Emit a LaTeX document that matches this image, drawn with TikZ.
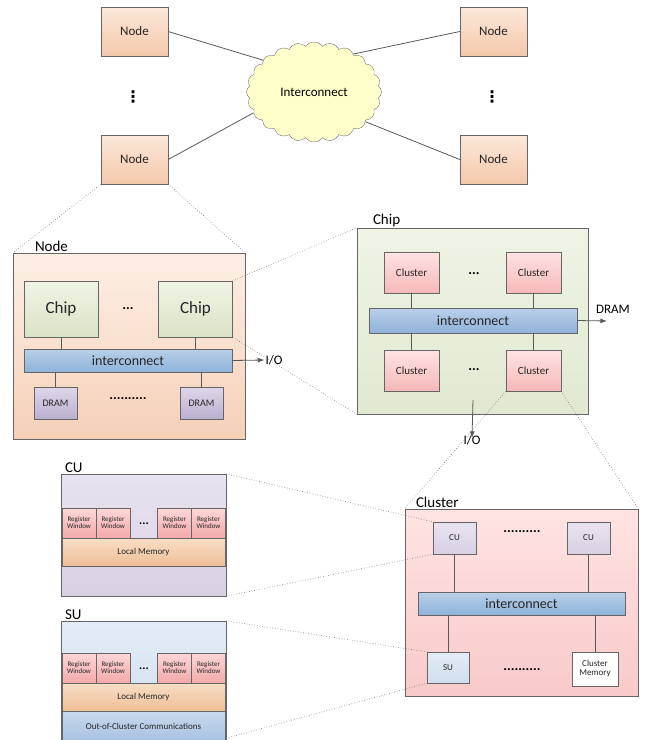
\documentclass[tikz,border=0pt]{standalone}
\usepackage{fontspec}
\setmainfont{Carlito}
\newfontfamily\symfont{DejaVu Sans}
\usetikzlibrary{positioning, arrows.meta, shapes.symbols}

\definecolor{peachTop}{HTML}{FCE8DA}
\definecolor{peachBot}{HTML}{F3C8AB}
\definecolor{greenTop}{HTML}{EFF4E6}
\definecolor{greenBot}{HTML}{D9E3C5}
\definecolor{barTop}{HTML}{B9D0E8}
\definecolor{barBot}{HTML}{8FB2D9}
\definecolor{dramTop}{HTML}{DED7E9}
\definecolor{dramBot}{HTML}{BBAFCF}
\definecolor{pinkTop}{HTML}{FFE3E3}
\definecolor{pinkBot}{HTML}{F6B8B8}
\definecolor{lilacTop}{HTML}{E8E3F0}
\definecolor{lilacBot}{HTML}{D8D0E3}
\definecolor{regTop}{HTML}{FDD7D7}
\definecolor{regBot}{HTML}{F3A9A9}
\definecolor{memTop}{HTML}{F8DDC6}
\definecolor{memBot}{HTML}{EEBF96}
\definecolor{skyTop}{HTML}{E3ECF6}
\definecolor{skyBot}{HTML}{D1DEED}
\definecolor{commTop}{HTML}{C8D9EC}
\definecolor{commBot}{HTML}{A7C1E1}
\definecolor{cloudYellow}{HTML}{FFFFCC}

\newcommand{\fsz}[1]{\fontsize{#1}{#1}\selectfont}

\begin{document}
\begin{tikzpicture}[
        x=1pt, y=-1pt, >=Latex,
        wire/.style={draw=black!65, line width=0.8pt},
        zoomline/.style={draw=black!55, dotted, line width=0.6pt},
        box/.style={draw=black!60, rectangle, align=center, inner sep=1pt, text=black!85},
        title/.style={anchor=south west, inner sep=1pt, font=\fsz{15}},
        dots/.style={font=\bfseries\fsz{14}, inner sep=1pt},
        netnode/.style={box, top color=peachTop, bottom color=peachBot, minimum width=67pt, minimum height=49pt, font=\fsz{13}},
        bar/.style={box, top color=barTop, bottom color=barBot, font=\fsz{14}},
        chip/.style={box, top color=greenTop, bottom color=greenBot, minimum width=74pt, minimum height=56pt, font=\fsz{17}},
        dram/.style={box, top color=dramTop, bottom color=dramBot, minimum width=43pt, minimum height=32pt, font=\fsz{10}},
        cluster/.style={box, top color=pinkTop, bottom color=pinkBot, minimum width=55pt, minimum height=41pt, font=\fsz{11}},
        unit/.style={box, minimum width=43pt, minimum height=32pt, font=\fsz{9}},
        regwin/.style={box, top color=regTop, bottom color=regBot, minimum width=34pt, minimum height=30pt, font=\fsz{7}, inner sep=0pt},
        mem/.style={box, top color=memTop, bottom color=memBot, minimum width=163pt, minimum height=28pt, font=\fsz{9}}
    ]
    \clip (0,0) rectangle (647,740);

    % --- System: nodes around the network ---
    \node[cloud, cloud puffs=24, cloud puff arc=110, aspect=1.35, draw=black!55, fill=cloudYellow, minimum width=135pt, minimum height=100pt, font=\fsz{13}] (net) at (314,92) {Interconnect};
    \node[netnode] (n1) at (134.5,31.5) {Node};
    \node[netnode] (n2) at (134.5,159.5) {Node};
    \node[netnode] (n3) at (493.5,31.5) {Node};
    \node[netnode] (n4) at (493.5,159.5) {Node};
    \node[font=\symfont\bfseries\fsz{16}, inner sep=0pt] (vdl) at (133,97) {⋮};
    \node[font=\symfont\bfseries\fsz{16}, inner sep=0pt] (vdr) at (492,97) {⋮};
    \draw[wire] (n1.east) -- (net.148);
    \draw[wire] (n2.east) -- (net.199);
    \draw[wire] (n3.west) -- (net.44);
    \draw[wire] (n4.west) -- (net.-30);

    % --- Node ---
    \node[box, top color=peachTop!70, bottom color=peachBot!85, minimum width=232pt, minimum height=186pt] (nodebox) at (129,346) {};
    \node[title] (nodetitle) at ([xshift=21pt]nodebox.north west) {Node};
    \node[chip] (chip1) at (61,309) {Chip};
    \node[chip] (chip2) at (195.5,309) {Chip};
    \node[dots] (chipdots) at (128,309) {...};
    \node[bar, minimum width=208pt, minimum height=23pt] (nodebar) at (128,360.5) {interconnect};
    \node[dram] (dram1) at (55.5,403) {DRAM};
    \node[dram] (dram2) at (201.5,403) {DRAM};
    \node[dots] (dramdots) at (128,399) {..........};
    \node[font=\fsz{13}, inner sep=1pt] (nodeio) at (274,360) {I/O};
    \draw[wire] (chip1.south) -- (chip1 |- nodebar.north);
    \draw[wire] (chip2.south) -- (chip2 |- nodebar.north);
    \draw[wire] (dram1.north) -- (dram1 |- nodebar.south);
    \draw[wire] (dram2.north) -- (dram2 |- nodebar.south);
    \draw[wire, ->] (nodebar.east) -- (nodeio.west);

    % --- Chip ---
    \node[box, top color=greenTop, bottom color=greenBot!80, minimum width=231pt, minimum height=186pt] (chipbox) at (472.5,321) {};
    \node[title] (chiptitle) at ([xshift=15pt]chipbox.north west) {Chip};
    \node[cluster] (cl1) at (411.5,272.5) {Cluster};
    \node[cluster] (cl2) at (533.5,272.5) {Cluster};
    \node[cluster] (cl3) at (411.5,370.5) {Cluster};
    \node[cluster] (cl4) at (533.5,370.5) {Cluster};
    \node[dots] (cldots1) at (474,274) {...};
    \node[dots] (cldots2) at (474,370) {...};
    \node[bar, minimum width=208pt, minimum height=25pt] (chipbar) at (473,320.5) {interconnect};
    \coordinate (dramend) at (607,321);
    \node[font=\fsz{13}, inner sep=1pt] (chipdram) at (613,309) {DRAM};
    \coordinate (iostart) at (473,400);
    \node[font=\fsz{13}, inner sep=1pt] (chipio) at (472,440) {I/O};
    \draw[wire] (cl1.south) -- (cl1 |- chipbar.north);
    \draw[wire] (cl2.south) -- (cl2 |- chipbar.north);
    \draw[wire] (cl3.north) -- (cl3 |- chipbar.south);
    \draw[wire] (cl4.north) -- (cl4 |- chipbar.south);
    \draw[wire, ->] (chipbar.east) -- (dramend);
    \draw[wire, ->] (iostart) -- ([yshift=-4pt]chipio.north);

    % --- Cluster ---
    \node[box, top color=pinkTop, bottom color=pinkBot!75, minimum width=233pt, minimum height=187pt] (clbox) at (521.5,602.5) {};
    \node[title] (cltitle) at ([xshift=10pt]clbox.north west) {Cluster};
    \node[unit, top color=lilacTop, bottom color=lilacBot] (cu1) at (454.5,538) {CU};
    \node[unit, top color=lilacTop, bottom color=lilacBot] (cu2) at (588.5,538) {CU};
    \node[dots] (cudots) at (522,532) {..........};
    \node[bar, minimum width=207pt, minimum height=23pt] (clbar) at (521.5,603.5) {interconnect};
    \node[unit, top color=skyTop, bottom color=skyBot, minimum width=42pt, minimum height=31pt] (su1) at (448,667.5) {SU};
    \node[unit, fill=white, minimum width=46pt, minimum height=34pt] (clmem) at (595,669) {Cluster\\Memory};
    \node[dots] (sudots) at (522,670) {..........};
    \draw[wire] (cu1.south) -- (cu1 |- clbar.north);
    \draw[wire] (cu2.south) -- (cu2 |- clbar.north);
    \draw[wire] (su1.north) -- (su1 |- clbar.south);
    \draw[wire] (clmem.north) -- (clmem |- clbar.south);

    % --- CU ---
    \node[box, top color=lilacTop, bottom color=lilacBot, minimum width=165pt, minimum height=122pt] (cubox) at (143.5,535) {};
    \node[title] (cutitle) at ([xshift=3pt]cubox.north west) {CU};
    \node[regwin] (curw1) at (79,523) {Register\\Window};
    \node[regwin] (curw2) at (113,523) {Register\\Window};
    \node[regwin] (curw3) at (174.5,523) {Register\\Window};
    \node[regwin] (curw4) at (208.5,523) {Register\\Window};
    \node[dots, font=\bfseries\fsz{12}] (curwdots) at (144,524) {...};
    \node[mem] (cumem) at (143.5,552) {Local Memory};

    % --- SU ---
    \node[box, top color=skyTop, bottom color=skyBot, minimum width=165pt, minimum height=121pt] (subox) at (143.5,681.5) {};
    \node[title] (sutitle) at ([xshift=3pt]subox.north west) {SU};
    \node[regwin] (surw1) at (79,668) {Register\\Window};
    \node[regwin] (surw2) at (113,668) {Register\\Window};
    \node[regwin] (surw3) at (174.5,668) {Register\\Window};
    \node[regwin] (surw4) at (208.5,668) {Register\\Window};
    \node[dots, font=\bfseries\fsz{12}] (surwdots) at (144,669) {...};
    \node[mem] (sumem) at (143.5,697) {Local Memory};
    \node[mem, top color=commTop, bottom color=commBot, minimum height=31pt] (sucomm) at (143.5,726.5) {Out-of-Cluster Communications};

    % --- Zoom lines (dotted) ---
    \draw[zoomline] (n2.south west) -- (nodebox.north west);
    \draw[zoomline] (n2.south east) -- (nodebox.north east);
    \draw[zoomline] (chip2.north east) -- (chipbox.north west);
    \draw[zoomline] (chip2.south east) -- (chipbox.south west);
    \draw[zoomline] (cl4.south west) -- (clbox.north west);
    \draw[zoomline] (cl4.south east) -- (clbox.north east);
    \draw[zoomline] (cubox.north east) -- (cu1.north west);
    \draw[zoomline] (cubox.south east) -- (cu1.south west);
    \draw[zoomline] (subox.north east) -- (su1.north west);
    \draw[zoomline] ([yshift=4pt]subox.south east) -- (su1.south west);

\end{tikzpicture}
\end{document}
